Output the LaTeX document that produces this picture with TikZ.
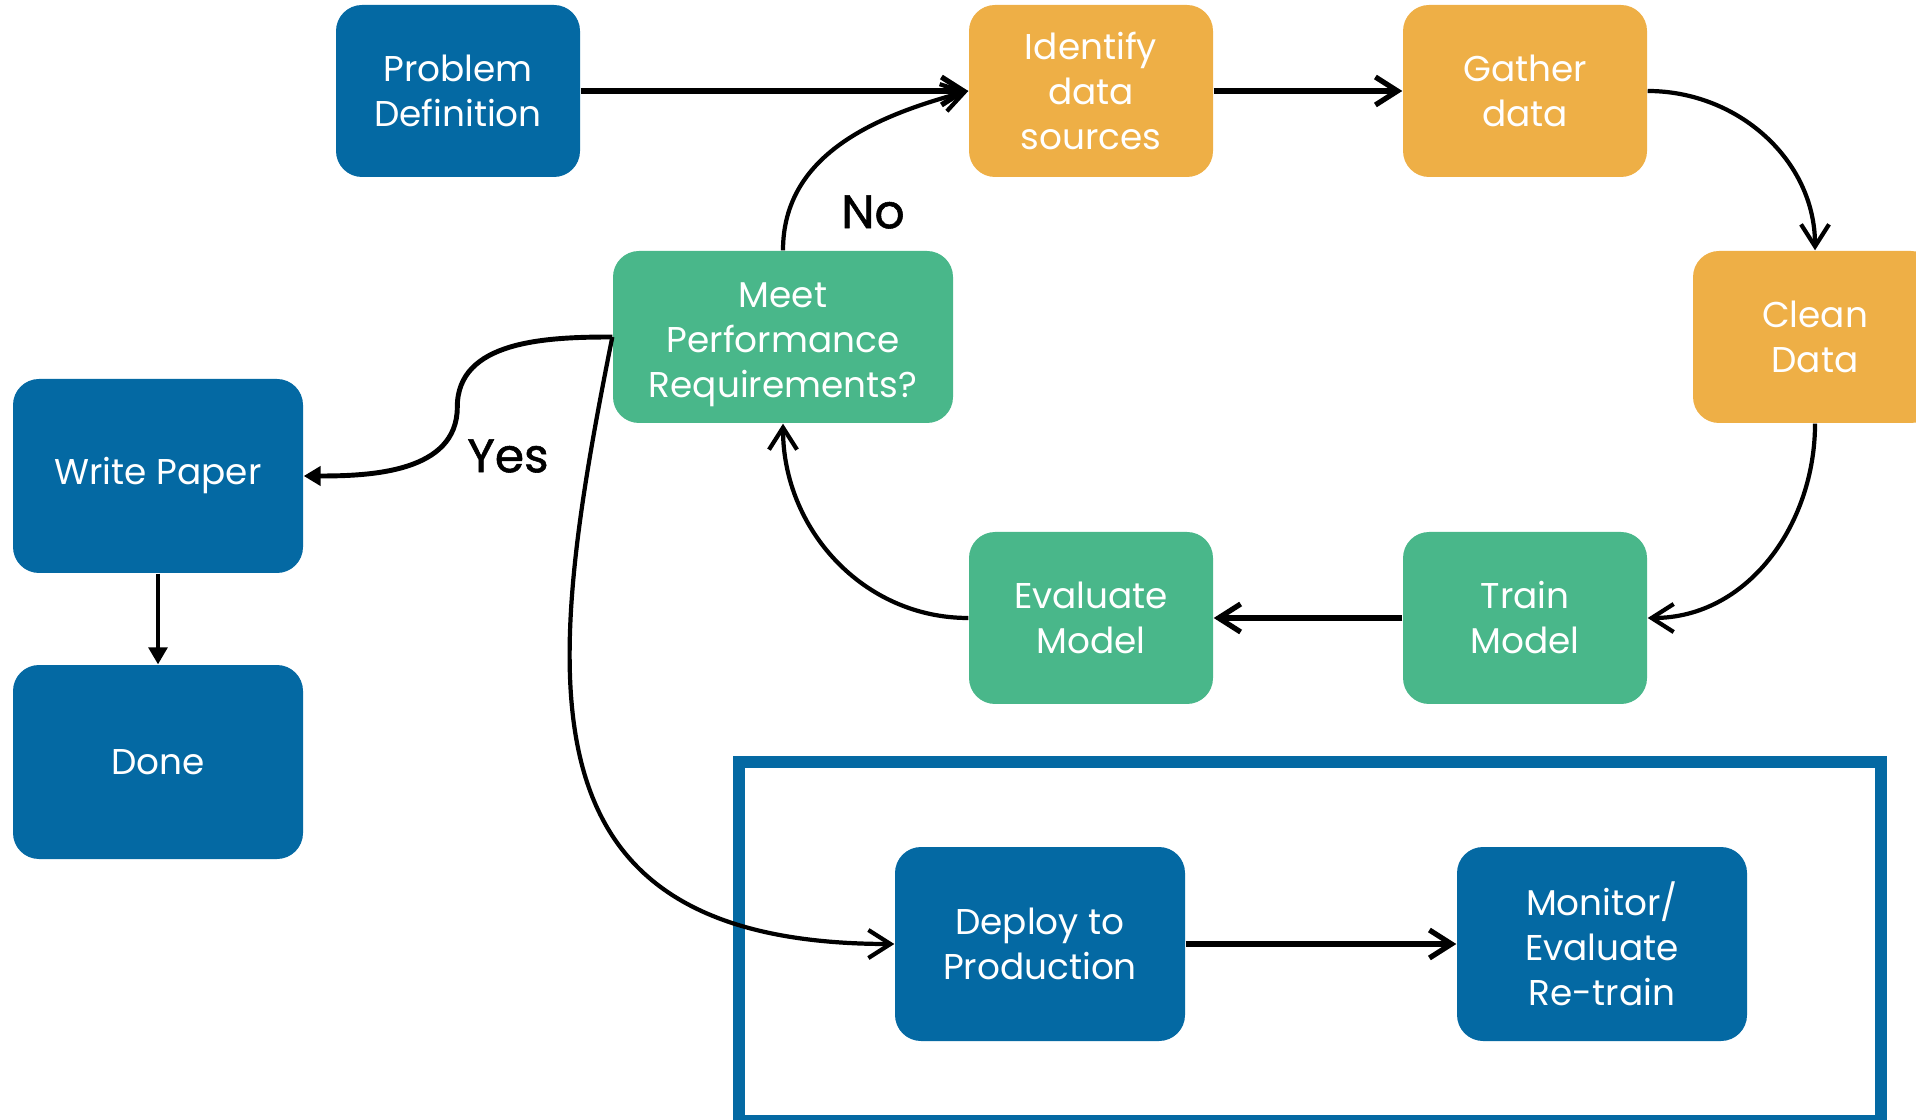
\documentclass[tikz,border=0pt]{standalone}
\usepackage{fontspec}
\newfontfamily\mlfont{Poppins}
\newfontfamily\mllabelfont{Poppins}[FakeBold=1.2]
\usetikzlibrary{arrows.meta}
\definecolor{mlBlue}{HTML}{0469A3}
\definecolor{mlGold}{HTML}{EEAF46}
\definecolor{mlGreen}{HTML}{49B78A}
\tikzset{
  ml box/.style={rounded corners=2.6mm, text=white, align=center, inner sep=0pt,
    font=\mlfont\fontsize{10.2}{12.8}\selectfont, minimum width=24.4mm, minimum height=17.2mm},
  ml blue/.style={ml box, fill=mlBlue},
  ml gold/.style={ml box, fill=mlGold},
  ml green/.style={ml box, fill=mlGreen},
  ml big/.style={minimum width=29mm, minimum height=19.4mm},
  ml flow/.style={draw=black, line width=1.5pt, -{Straight Barb[length=2.2mm,width=2.8mm]}},
  ml loop/.style={ml flow, line width=1.2pt},
  ml thin/.style={draw=black, line width=0.9pt, -{Triangle[length=1.7mm,width=1.9mm]}},
  ml label/.style={font=\mllabelfont\fontsize{13.4}{16}\selectfont, text=black},
  ml frame/.style={draw=mlBlue, line width=1.2mm},
}

\begin{document}
\begin{tikzpicture}[x=0.1mm, y=0.1mm]
  \useasboundingbox (0,0) rectangle (1916,-1120);

  % Production frame
  \draw[ml frame] (739,-762) rectangle (1881,-1121);

  % Data loop
  \node[ml blue] (prob) at (458,-91) {Problem\\Definition};
  \node[ml gold] (ident) at (1091,-91) {Identify\\data\\sources};
  \node[ml gold] (gather) at (1525,-91) {Gather\\data};
  \node[ml gold] (clean) at (1815,-337) {Clean\\Data};
  \node[ml green] (train) at (1525,-618) {Train\\Model};
  \node[ml green] (eval) at (1091,-618) {Evaluate\\Model};
  \node[ml green, minimum width=34mm] (meet) at (783,-337) {\rule{0pt}{4mm}Meet\\Performance\\Requirements?};

  % Outcomes
  \node[ml blue, ml big] (paper) at (158,-476) {Write Paper};
  \node[ml blue, ml big] (done) at (158,-762) {Done};
  \node[ml blue, ml big] (deploy) at (1040,-944) {Deploy to\\Production};
  \node[ml blue, ml big] (monitor) at (1602,-944) {Monitor/\\Evaluate\\Re-train};

  \node[ml label] (no) at (873,-212) {No};
  \node[ml label] (yes) at (508,-456) {Yes};

  % Connectors
  \draw[ml flow] (prob) -- (ident);
  \draw[ml flow] (ident) -- (gather);
  \draw[ml loop] (gather.east) to[out=0, in=90] (clean.north);
  \draw[ml loop] (clean.south) to[out=-90, in=0] (train.east);
  \draw[ml flow] (train) -- (eval);
  \draw[ml loop] (eval.west) to[out=180, in=-90] (meet.south);
  \draw[ml loop] (meet.north) to[out=90, in=195] (ident.west);
  \draw[ml thin, line width=1.4pt] (meet.west) to[out=180, in=90] ++(-155,-70) to[out=-90, in=0] (paper.east);
  \draw[ml flow, line width=1.2pt] (meet.west) .. controls +(-70,-350) and +(-380,0) .. (deploy.west);
  \draw[ml thin] (paper) -- (done);
  \draw[ml flow] (deploy) -- (monitor);
\end{tikzpicture}
\end{document}
